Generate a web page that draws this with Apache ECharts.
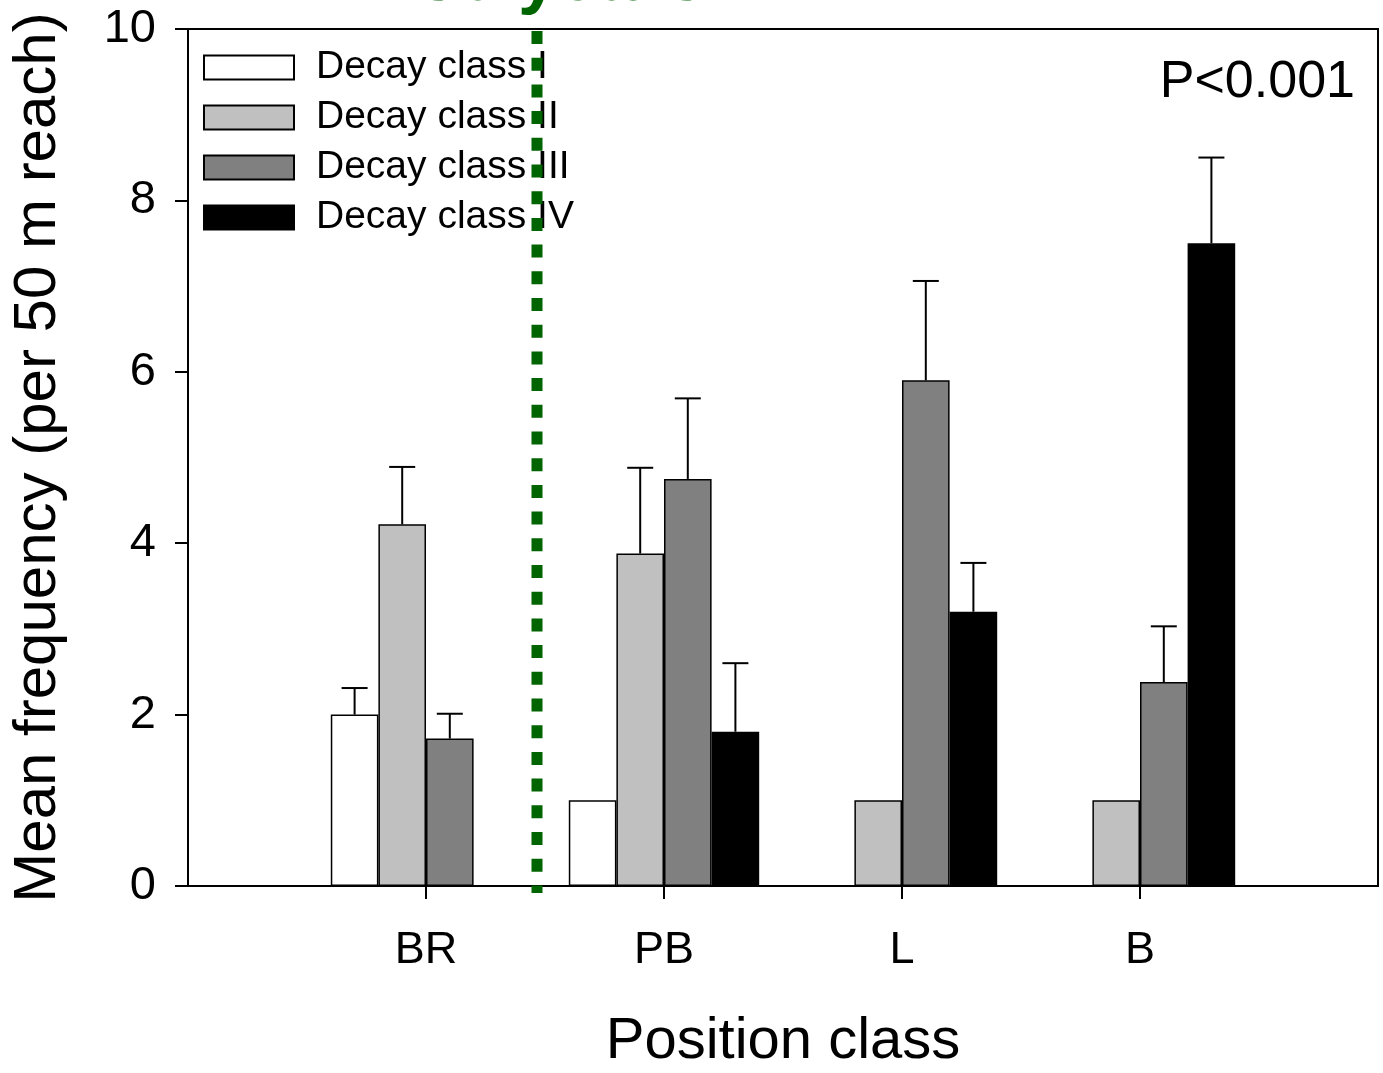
<!DOCTYPE html>
<html>
<head>
<meta charset="utf-8">
<script src="https://cdn.jsdelivr.net/npm/echarts@6/dist/echarts.min.js"></script>
<style>html,body{margin:0;padding:0;background:#fff;}#c{width:1383px;height:1073px;}</style>
</head>
<body>
<div id="c"></div>
<script>
// ---- data ----
var categories = ['', 'BR', 'PB', 'L', 'B', ''];
var seriesNames = ['Decay class I', 'Decay class II', 'Decay class III', 'Decay class IV'];
var classI   = [null, 2.00, 1.00, null, null, null];
var classII  = [null, 4.22, 3.88, 1.00, 1.00, null];
var classIII = [null, 1.72, 4.75, 5.90, 2.38, null];
var classIV  = [null, null, 1.80, 3.20, 7.50, null];
var seI   = [null, 0.31, null, null, null, null];
var seII  = [null, 0.67, 1.00, null, null, null];
var seIII = [null, 0.29, 0.94, 1.16, 0.65, null];
var seIV  = [null, null, 0.80, 0.57, 1.00, null];
var yTicks = [0, 2, 4, 6, 8, 10];

var means = [classI, classII, classIII, classIV];
var ses = [seI, seII, seIII, seIV];
var colors = ['#ffffff', '#c0c0c0', '#808080', '#000000'];
var FONT = "'Liberation Sans', Arial, sans-serif";

var chart = echarts.init(document.getElementById('c'), null, {renderer: 'canvas'});

var series = [];
means.forEach(function (arr, k) {
  series.push({
    name: seriesNames[k],
    type: 'bar',
    data: arr,
    barWidth: '20%',
    barGap: '0%',
    itemStyle: {color: colors[k], borderColor: '#000', borderWidth: 1.5},
    emphasis: {disabled: true},
    z: 2
  });
});
means.forEach(function (arr, k) {
  var d = [];
  arr.forEach(function (v, i) {
    if (v != null && ses[k][i] != null) d.push([i, v, ses[k][i]]);
  });
  series.push({
    type: 'custom',
    data: d,
    encode: {x: 0, y: 1},
    z: 3,
    silent: true,
    renderItem: function (params, api) {
      var cat = api.value(0), m = api.value(1), se = api.value(2);
      var bw = api.size([1, 0])[0] * 0.2;
      var off = (k - 1.5) * bw;
      var p0 = api.coord([cat, m]);
      var p1 = api.coord([cat, m + se]);
      var x = p0[0] + off;
      var st = {stroke: '#000', lineWidth: 2};
      return {
        type: 'group',
        children: [
          {type: 'line', shape: {x1: x, y1: p0[1], x2: x, y2: p1[1]}, style: st},
          {type: 'line', shape: {x1: x - 13, y1: p1[1], x2: x + 13, y2: p1[1]}, style: st}
        ]
      };
    }
  });
});

var option = {
  animation: false,
  backgroundColor: '#fff',
  textStyle: {fontFamily: FONT},
  grid: {left: 188, right: 5, top: 29, bottom: 187, show: true, borderColor: '#000', borderWidth: 2,
    containLabel: false, outerBoundsMode: 'none'},
  legend: {
    data: seriesNames,
    orient: 'vertical',
    left: 203,
    top: 48,
    padding: 0,
    itemWidth: 90,
    itemHeight: 24,
    itemGap: 11,
    icon: 'rect',
    selectedMode: false,
    textStyle: {fontSize: 39, color: '#000', fontFamily: FONT, padding: [0, 0, 0, 17]}
  },
  xAxis: {
    type: 'category',
    data: categories,
    boundaryGap: false,
    name: 'Position class',
    nameLocation: 'middle',
    nameGap: 127,
    nameTextStyle: {fontSize: 58, color: '#000', fontFamily: FONT},
    axisLine: {lineStyle: {color: '#000', width: 2}},
    axisTick: {show: true, length: 13, lineStyle: {color: '#000', width: 2},
      interval: function (i) { return i >= 1 && i <= 4; }},
    axisLabel: {fontSize: 45, color: '#000', margin: 42, fontFamily: FONT, interval: 0},
    splitLine: {show: false}
  },
  yAxis: {
    type: 'value',
    min: yTicks[0],
    max: yTicks[yTicks.length - 1],
    interval: 2,
    name: 'Mean frequency (per 50 m reach)',
    nameLocation: 'middle',
    nameGap: 120,
    nameTextStyle: {fontSize: 60, color: '#000', fontFamily: FONT},
    axisLine: {show: true, lineStyle: {color: '#000', width: 2}},
    axisTick: {show: true, length: 13, lineStyle: {color: '#000', width: 2}},
    axisLabel: {fontSize: 47, color: '#000', margin: 32, fontFamily: FONT},
    splitLine: {show: false}
  },
  graphic: [
    {
      type: 'line', z: 100, silent: true,
      shape: {x1: 537, y1: 31, x2: 537, y2: 893},
      style: {stroke: '#006400', lineWidth: 11, lineDash: [13, 13.7]}
    },
    {
      type: 'text', z: 100, silent: true,
      x: 562, y: 16,
      style: {text: '30 years', fill: '#006400', font: "bold 72px 'Liberation Sans', Arial, sans-serif", textAlign: 'center', textVerticalAlign: 'bottom'}
    },
    {
      type: 'text', z: 100, silent: true,
      x: 1355, y: 83,
      style: {text: 'P<0.001', fill: '#000', font: "52px 'Liberation Sans', Arial, sans-serif", textAlign: 'right', textVerticalAlign: 'middle'}
    }
  ],
  series: series
};
chart.setOption(option);
</script>
</body>
</html>
